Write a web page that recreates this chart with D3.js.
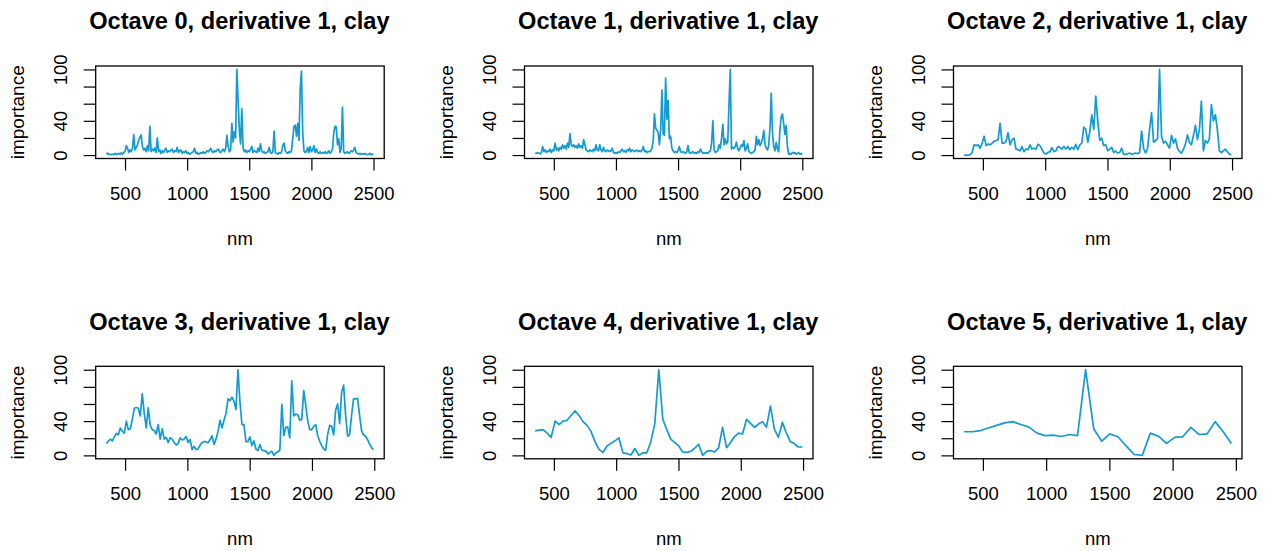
<!DOCTYPE html>
<html><head><meta charset="utf-8">
<script src="https://cdn.jsdelivr.net/npm/d3@7"></script>
<style>
body{margin:0;background:#fff}
svg{display:block}
text{font-family:"Liberation Sans",Arial,Helvetica,sans-serif;fill:#000}
</style>
</head><body>
<svg id="c" width="1266" height="551"></svg>
<script>
// ---- data ----
const titles = ["Octave 0, derivative 1, clay","Octave 1, derivative 1, clay","Octave 2, derivative 1, clay",
                "Octave 3, derivative 1, clay","Octave 4, derivative 1, clay","Octave 5, derivative 1, clay"];
const xTicks = [500,1000,1500,2000,2500];
const yTicks = [0,20,40,60,80,100];
const yLabelled = [0,40,100];
const xLabel = "nm";
const yLabel = "importance";
// first wavelength (nm) and spacing (nm) of each series
const starts = [350,350,350,350,350,352];
const steps  = [10,10,16,16,32,64];

const oct0 = [1,2.4,0.5,1,0.5,1,0.5,2,0.5,1.5,
 2,1,2.5,1,3,4,11,8,3,6,
 4,8,24,6,9,12,17,21,23.6,10,
 6,8,4,11,5,33.5,4,7,5,8,
 3,20,4,6,2,5,3,6,8,3,
 5,4,6,7,3,5,4,9,3,5,
 6,2,4,3,5,2,3,1,2,3,
 4,8,2,3,1,2,3,2,4,2,
 3,5,4,6,8,4,3,5,4,6,
 7,4,3,5,7,4,8,23,10,4,
 6,37,15,27,20,100,64,30,13,54,
 8,4,6,3,5,4,7,10,3,5,
 4,3,8,4,13,5,3,4,2,3,
 4,9,3,2,4,28,3,2,1,3,
 2,4,11,14,5,3,2,4,3,5,
 20,33.5,35,22,37,17,77,98,27,5,
 3,4,9,3,10,4,6,11,3,7,
 3,2,4,2,3,2,4,2,3,5,
 2,4,7,26,33.5,33,12,19,3,8,
 56,4,2,3,4,2,3,5,4,6,
 9,3,2,1,2,1,1.5,1,2,1,
 0.5,1,2,0.5,1,0.5];

const oct1 = [2.4,2,3,2,1.5,3,10,4,6,3,
 5,4,7,3,6,5,14,6,8,5,
 9,7,12,8,11,7,14,9,25,12,
 10,12,9,11,8,13,9,11,8,18,
 12,6,5,4,6,5,4,7,5,12,
 6,5,12,6,4,9,5,4,6,5,
 4,5,8,3,2,3,2,4,3,5,
 7,4,5,3,6,5,8,4,6,5,
 4,5,6,4,5,4,6,10,4,5,
 3,4,4,5,8,17,48,31,29,26,
 12,30,76,25,23,90,42,64,19,22,
 8,5,3,4,3,5,10,4,3,4,
 3,2,4,11,3,2,3,4,2,3,
 2,4,3,7,4,2,3,2,3,2,
 4,5,14,40,6,3,4,5,12,8,
 20,36,12,19,13,16,60,100,7,9,
 8,10,15,7,5,9,12,10,17,5,
 8,13,4,3,2,3,4,6,22,12,
 18,11,14,19,28.7,12,8,6,12,32.7,
 72,25,10,5,15,7,4,30,44.5,48,
 36.6,24,34.6,10,1,2,1,3,2,3,
 1,2,3,1,2,1];

const oct2 = [0,0,0,0.4,3,12,11,12,8,14,
 22,11,13,12,14,16,17,18,37,14,
 14,16,26,12,18,19.7,7,6.3,5,10,
 4,7,6.3,12,7,8,7,12.6,11,7,
 2.4,1.2,3,4,8.7,4,5,10,9,7,
 10,7,10,6.3,9,7,12.6,6.3,12,14,
 32.7,30,15,26.8,47,30,69,40,17,19.7,
 11,12,5,7,9,3,4.7,2.4,3,8,
 0.8,0.8,1.6,2.4,0.8,1.6,2.4,1.6,3,28,
 8,2.4,8,30,49.6,15,17,19,100,22,
 14,16,12,8,23,14,19,8,4,2.4,
 7,13,23.6,15,12,23,34.6,18,30,63,
 5,17,14,19,59,40,47,30,5,3,
 5,7,4,1.2,0];

const oct3 = [14,16.5,19,17,21.6,25.6,24,32,28,26,
 40,30,31,42,55,56,55,46,72,49,
 32,55.5,35,30,29,25,36,19,31,19,
 21,15,20.5,19,15,12,14,20.5,18,19,
 22,15,18.5,6.7,10.6,6.7,7.5,12,15,16,
 16,14.6,18.5,23,12.6,19,28,41,32,41,
 49,66,64,68,63,53.5,100,63,36,36,
 16,16,21.6,11.4,17,7.5,5.5,12.6,6.3,5.5,
 5,1.6,3.5,5,0,2.8,4.3,6,59.5,23,
 33,33,20.5,87,46,48,47.6,41,42,75.6,
 58.7,40.5,30,30,34,36,23,16.5,11.4,7.5,
 6,24.4,35,34,24,52.7,60,37,73.6,82,
 47,22.4,24,47,66,66,66.5,47,29,24,
 22.4,18.5,13.4,9,6.7];

const oct4 = [28.7,29.5,30,26,21,40,36,40,41,46.5,
 52,46.5,39.4,35,28,16,7,3.5,11,14,
 17,20.5,3,2,0.4,8,0,3,3,16,
 37,100,42.5,30,19,15,11,4,3.5,4.7,
 8.3,13,0,4.7,5.5,4,8.7,32.7,9,15,
 22,26,25,42,37.4,32.7,36.6,39.4,32.7,57.5,
 30.7,21,38.6,26,16,13.8,9.8,9.8];

const oct5 = [27.6,27.6,29,32,35,38,39.4,36,33,26,
 23,23.6,22,24.4,23,100,31,16.5,25,21.7,
 11,1,0,26,22.4,14,21,21.7,32.7,24.4,
 25,39.4,27.6,13.8];

const seriesList = [oct0,oct1,oct2,oct3,oct4,oct5];

// ---- layout ----
const colLeft = [95.7,524.5,953.5];
const rowTop = [66,366.3];
const W = 288.5, H = 92.5;
const lineColor = "#119bd0";

const svg = d3.select("#c");

seriesList.forEach((vals,k)=>{
  const col = k%3, row = Math.floor(k/3);
  const L = colLeft[col], T = rowTop[row];
  const pts = vals.map((v,i)=>({x: starts[k]+i*steps[k], y: v}));
  const [xmin,xmax] = d3.extent(pts, d=>d.x);
  const xp = (xmax-xmin)*0.04;
  const x = d3.scaleLinear().domain([xmin-xp, xmax+xp]).range([L, L+W]);
  const y = d3.scaleLinear().domain([-4,104]).range([T+H, T]);

  const g = svg.append("g");

  // line
  g.append("path").datum(pts)
    .attr("fill","none").attr("stroke",lineColor).attr("stroke-width",1.7)
    .attr("stroke-linejoin","round")
    .attr("d", d3.line().x(d=>x(d.x)).y(d=>y(d.y)));

  // box
  g.append("rect").attr("x",L).attr("y",T).attr("width",W).attr("height",H)
    .attr("fill","none").attr("stroke","#000").attr("stroke-width",1.3);

  // x axis
  const gx = g.append("g").attr("transform",`translate(0,${T+H})`)
    .call(d3.axisBottom(x).tickValues(xTicks).tickSize(12).tickFormat(d3.format("d")));
  gx.select(".domain").remove();
  gx.selectAll(".tick line").attr("stroke","#000").attr("stroke-width",1.2);
  gx.selectAll(".tick text").attr("y",41).attr("dy",null)
    .style("font-size","18.5px").style("font-family",'"Liberation Sans",Arial,sans-serif').attr("fill","#000");

  // y axis
  const gy = g.append("g").attr("transform",`translate(${L},0)`)
    .call(d3.axisLeft(y).tickValues(yTicks).tickSize(12)
      .tickFormat(d=> yLabelled.includes(d) ? String(d) : ""));
  gy.select(".domain").remove();
  gy.selectAll(".tick line").attr("stroke","#000").attr("stroke-width",1.2);
  gy.selectAll(".tick text").attr("x",null).attr("dy",null)
    .attr("text-anchor","middle")
    .attr("transform","translate(-29,0) rotate(-90)")
    .style("font-size","18.5px").style("font-family",'"Liberation Sans",Arial,sans-serif').attr("fill","#000");

  // labels
  g.append("text").attr("x",L+W/2).attr("y",T+H+86.5).attr("text-anchor","middle")
    .style("font-size","18.5px").text(xLabel);
  g.append("text").attr("transform",`translate(${L-71.7},${T+H/2}) rotate(-90)`)
    .attr("text-anchor","middle").style("font-size","19px").text(yLabel);
  g.append("text").attr("x",L+W/2-0.5).attr("y",T-36.7).attr("text-anchor","middle")
    .style("font-size","23.6px").style("font-weight","bold").text(titles[k]);
});
</script>
</body></html>
